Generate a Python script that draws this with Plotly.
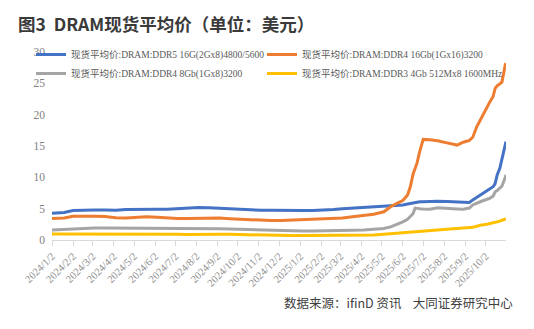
import plotly.graph_objects as go

# ---- data ----
dates = [
    "2024-01-02", "2024-01-20", "2024-02-02", "2024-02-20", "2024-03-05", "2024-03-20",
    "2024-04-05", "2024-04-20", "2024-05-05", "2024-05-20", "2024-06-05", "2024-06-20",
    "2024-07-05", "2024-07-20", "2024-08-05", "2024-08-20", "2024-09-05", "2024-09-20",
    "2024-10-05", "2024-10-20", "2024-11-05", "2024-11-20", "2024-12-05", "2024-12-20",
    "2025-01-05", "2025-01-20", "2025-02-05", "2025-02-20", "2025-03-05", "2025-03-20",
    "2025-04-05", "2025-04-20", "2025-05-05", "2025-05-15", "2025-05-25", "2025-06-02",
    "2025-06-09", "2025-06-13", "2025-06-17", "2025-06-20", "2025-06-23", "2025-06-27",
    "2025-07-02", "2025-07-12", "2025-07-23", "2025-08-06", "2025-08-21", "2025-08-30",
    "2025-09-08", "2025-09-13", "2025-09-19", "2025-09-24", "2025-10-04", "2025-10-08",
    "2025-10-13", "2025-10-16", "2025-10-19", "2025-10-23", "2025-10-26", "2025-10-31",
    "2025-11-01",
]

ddr5_16g = [
    4.25, 4.4, 4.7, 4.8, 4.8, 4.8,
    4.75, 4.85, 4.9, 4.9, 4.9, 4.9,
    5.0, 5.1, 5.2, 5.15, 5.05, 5.0,
    4.9, 4.8, 4.75, 4.75, 4.7, 4.7,
    4.7, 4.7, 4.75, 4.85, 5.0, 5.1,
    5.2, 5.3, 5.35, 5.5, 5.55, 5.6,
    5.75, 5.85, 5.95, 6.0, 6.05, 6.1,
    6.1, 6.15, 6.2, 6.15, 6.05, 6.0,
    6.0, 6.4, 6.8, 7.2, 7.8, 8.2,
    8.5, 9.0, 10.4, 11.5, 12.8, 15.0,
    15.7,
]

ddr4_16gb = [
    3.45, 3.5, 3.8, 3.85, 3.8, 3.75,
    3.55, 3.5, 3.65, 3.7, 3.65, 3.5,
    3.45, 3.45, 3.5, 3.55, 3.5, 3.4,
    3.3, 3.2, 3.15, 3.1, 3.1, 3.15,
    3.2, 3.25, 3.3, 3.4, 3.5, 3.7,
    3.9, 4.1, 4.5, 5.3, 5.9, 6.3,
    7.2, 8.5, 10.5, 11.5, 12.3, 14.2,
    16.05, 16.0, 15.85, 15.5, 15.15, 15.6,
    15.9, 16.4, 18.1, 19.1, 21.3, 22.0,
    22.9, 24.2, 24.6, 25.0, 25.2, 28.0,
    28.2,
]

ddr4_8gb = [
    1.6, 1.7, 1.8, 1.85, 1.9, 1.9,
    1.9, 1.85, 1.85, 1.8, 1.8, 1.8,
    1.85, 1.9, 1.9, 1.85, 1.8, 1.75,
    1.7, 1.65, 1.55, 1.5, 1.45, 1.45,
    1.45, 1.45, 1.45, 1.5, 1.5, 1.55,
    1.6, 1.7, 1.85, 2.1, 2.5, 2.9,
    3.3, 3.7, 4.2, 5.1, 5.1, 5.0,
    4.95, 4.9, 5.15, 5.0, 4.95, 4.9,
    5.1, 5.6, 5.9, 6.1, 6.5, 6.65,
    7.0, 7.7, 7.9, 8.25, 8.6, 10.0,
    10.4,
]

ddr3_4gb = [
    0.95, 0.95, 1.0, 1.0, 1.0, 1.0,
    0.98, 0.95, 0.95, 0.95, 0.95, 0.92,
    0.9, 0.88, 0.85, 0.85, 0.9, 0.9,
    0.85, 0.8, 0.78, 0.75, 0.72, 0.7,
    0.7, 0.7, 0.68, 0.68, 0.68, 0.72,
    0.75, 0.8, 0.9, 1.0, 1.1, 1.15,
    1.2, 1.25, 1.28, 1.3, 1.33, 1.36,
    1.4, 1.5, 1.6, 1.7, 1.8, 1.85,
    1.95, 2.05, 2.2, 2.35, 2.5, 2.6,
    2.7, 2.8, 2.9, 3.0, 3.15, 3.3,
    3.35,
]

series_names = [
    "现货平均价:DRAM:DDR5 16G(2Gx8)4800/5600",
    "现货平均价:DRAM:DDR4 16Gb(1Gx16)3200",
    "现货平均价:DRAM:DDR4 8Gb(1Gx8)3200",
    "现货平均价:DRAM:DDR3 4Gb 512Mx8 1600MHz",
]
series_values = [ddr5_16g, ddr4_16gb, ddr4_8gb, ddr3_4gb]
series_colors = ["#4472C4", "#ED7D31", "#A5A5A5", "#FFC000"]
legend_groups = ["legend", "legend2", "legend", "legend2"]

tick_dates = [
    "2024-01-02", "2024-02-02", "2024-03-02", "2024-04-02", "2024-05-02", "2024-06-02",
    "2024-07-02", "2024-08-02", "2024-09-02", "2024-10-02", "2024-11-02", "2024-12-02",
    "2025-01-02", "2025-02-02", "2025-03-02", "2025-04-02", "2025-05-02", "2025-06-02",
    "2025-07-02", "2025-08-02", "2025-09-02", "2025-10-02",
]
tick_labels = [
    "2024/1/2", "2024/2/2", "2024/3/2", "2024/4/2", "2024/5/2", "2024/6/2",
    "2024/7/2", "2024/8/2", "2024/9/2", "2024/10/2", "2024/11/2", "2024/12/2",
    "2025/1/2", "2025/2/2", "2025/3/2", "2025/4/2", "2025/5/2", "2025/6/2",
    "2025/7/2", "2025/8/2", "2025/9/2", "2025/10/2",
]
y_ticks = [0, 5, 10, 15, 20, 25, 30]

title_text = "图3  DRAM现货平均价（单位：美元）"
source_text = "数据来源：ifinD 资讯&nbsp;&nbsp;&nbsp;&nbsp;大同证券研究中心"

SERIF = "Liberation Serif, Noto Sans CJK SC, serif"
SANS = "Noto Sans CJK SC, Noto Sans, sans-serif"

fig = go.Figure()
for name, vals, col, lg in zip(series_names, series_values, series_colors, legend_groups):
    fig.add_trace(go.Scatter(
        x=dates, y=vals, name=name, mode="lines",
        line=dict(color=col, width=3), legend=lg,
    ))

W, H = 534, 329
L, R, T, B = 52, 28, 52, 89
pw, ph = W - L - R, H - T - B

legend_common = dict(
    orientation="v", xanchor="left", yanchor="top",
    bgcolor="rgba(0,0,0,0)", borderwidth=0,
    font=dict(family=SERIF, size=9.5, color="#595959"),
    traceorder="normal", itemwidth=30, tracegroupgap=0,
)

fig.update_layout(
    width=W, height=H,
    margin=dict(l=L, r=R, t=T, b=B, pad=0),
    paper_bgcolor="white", plot_bgcolor="white",
    showlegend=True,
    title=dict(
        text=title_text, x=18 / W, xanchor="left", y=1 - 25 / H, yanchor="middle",
        font=dict(family=SANS, size=17.5, color="#3a3a3a", weight="bold"),
    ),
    legend=dict(legend_common, x=(31 - L) / pw, y=(H - B - 40) / ph),
    legend2=dict(legend_common, x=(262 - L) / pw, y=(H - B - 40) / ph),
    xaxis=dict(
        type="date", range=["2024-01-02", "2025-11-01"],
        tickvals=tick_dates, ticktext=tick_labels, tickangle=-45,
        showgrid=False, zeroline=False,
        showline=True, linecolor="#d9d9d9", linewidth=1,
        ticks="outside", ticklen=5, tickcolor="#d9d9d9", tickwidth=1,
        tickfont=dict(family=SERIF, size=10.5, color="#8c8c8c"),
    ),
    yaxis=dict(
        range=[0, 30], tickvals=y_ticks, showgrid=False, zeroline=False,
        showline=False, ticks="", ticklabelstandoff=6,
        tickfont=dict(family=SERIF, size=11.5, color="#7f7f7f"),
    ),
    annotations=[dict(
        text=source_text, xref="paper", yref="paper",
        x=(515 - L) / pw, xanchor="right", y=-(302 - (H - B)) / ph, yanchor="middle",
        showarrow=False, font=dict(family=SANS, size=12.5, color="#404040"),
    )],
)

fig.write_html("out.html")
